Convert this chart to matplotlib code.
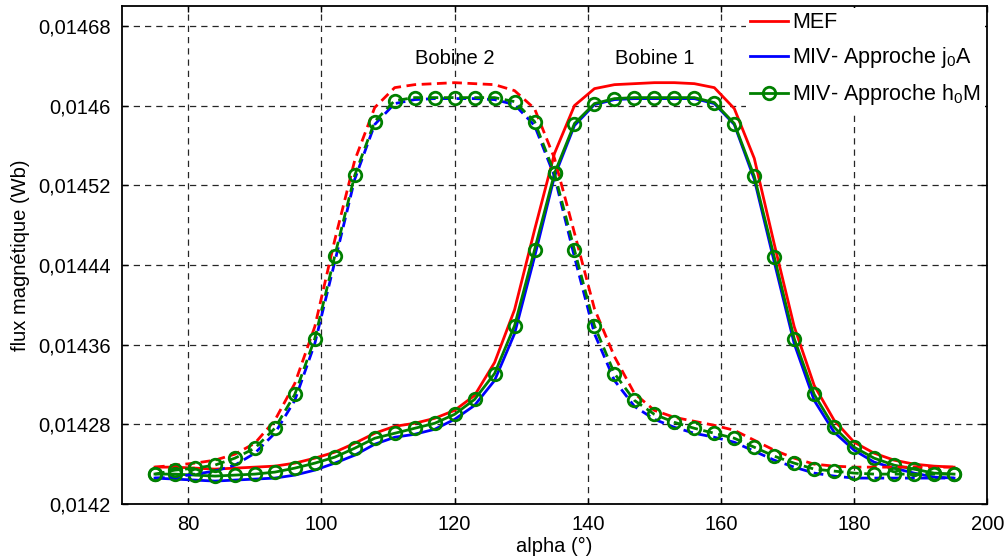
import matplotlib
matplotlib.use("Agg")
import matplotlib.pyplot as plt
from matplotlib.ticker import FixedLocator

plt.rcParams['font.family'] = ['Liberation Sans', 'DejaVu Sans']
plt.rcParams['mathtext.fontset'] = 'custom'
plt.rcParams['mathtext.rm'] = 'Liberation Sans'
plt.rcParams['mathtext.it'] = 'Liberation Sans'
plt.rcParams['font.size'] = 14

# angle (deg), 75..195 every 3 deg
alpha = [75, 78, 81, 84, 87, 90, 93, 96, 99, 102, 105, 108, 111, 114, 117,
         120, 123, 126, 129, 132, 135, 138, 141, 144, 147, 150, 153, 156, 159,
         162, 165, 168, 171, 174, 177, 180, 183, 186, 189, 192, 195]

# bobine 1 (solid)
mef_b1 = [0.014237, 0.014237, 0.014236, 0.014235, 0.014236, 0.014237, 0.014238,
          0.014241, 0.014246, 0.014252, 0.014261, 0.014271, 0.014278, 0.014281,
          0.014286, 0.014294, 0.014309, 0.014342, 0.014395, 0.014475, 0.014552,
          0.014600, 0.014617, 0.014621, 0.014622, 0.014623, 0.014623, 0.014622,
          0.014618, 0.014597, 0.014547, 0.014461, 0.014378, 0.014319, 0.014284,
          0.014262, 0.014251, 0.014244, 0.014240, 0.014238, 0.014237]
j0a_b1 = [0.014226, 0.014225, 0.014224, 0.014223, 0.014224, 0.014225, 0.014226,
          0.014229, 0.014234, 0.014241, 0.014249, 0.014260, 0.014267, 0.014270,
          0.014275, 0.014285, 0.014299, 0.014324, 0.014371, 0.014448, 0.014529,
          0.014580, 0.014601, 0.014606, 0.014607, 0.014607, 0.014607, 0.014607,
          0.014602, 0.014581, 0.014526, 0.014443, 0.014361, 0.014304, 0.014272,
          0.014254, 0.014242, 0.014236, 0.014231, 0.014227, 0.014226]
h0m_b1 = [0.014230, 0.014230, 0.014229, 0.014228, 0.014229, 0.014230, 0.014232,
          0.014236, 0.014241, 0.014247, 0.014256, 0.014266, 0.014271, 0.014276,
          0.014281, 0.014290, 0.014305, 0.014331, 0.014379, 0.014455, 0.014532,
          0.014582, 0.014602, 0.014607, 0.014608, 0.014608, 0.014608, 0.014608,
          0.014603, 0.014582, 0.014529, 0.014448, 0.014366, 0.014310, 0.014277,
          0.014257, 0.014246, 0.014239, 0.014235, 0.014231, 0.014230]

# bobine 2 (dashed)
mef_b2 = [0.014237, 0.014239, 0.014241, 0.014244, 0.014250, 0.014261, 0.014284,
          0.014321, 0.014378, 0.014465, 0.014545, 0.014598, 0.014618, 0.014621,
          0.014622, 0.014623, 0.014622, 0.014621, 0.014615, 0.014597, 0.014547,
          0.014472, 0.014396, 0.014348, 0.014311, 0.014294, 0.014287, 0.014283,
          0.014279, 0.014274, 0.014264, 0.014254, 0.014246, 0.014240, 0.014238,
          0.014237, 0.014237, 0.014237, 0.014237, 0.014237, 0.014237]
j0a_b2 = [0.014226, 0.014227, 0.014230, 0.014233, 0.014239, 0.014251, 0.014271,
          0.014304, 0.014361, 0.014443, 0.014526, 0.014581, 0.014602, 0.014606,
          0.014607, 0.014607, 0.014607, 0.014606, 0.014601, 0.014580, 0.014529,
          0.014448, 0.014371, 0.014324, 0.014298, 0.014285, 0.014277, 0.014271,
          0.014267, 0.014262, 0.014253, 0.014244, 0.014237, 0.014231, 0.014228,
          0.014226, 0.014226, 0.014226, 0.014226, 0.014226, 0.014226]
h0m_b2 = [0.014230, 0.014234, 0.014236, 0.014239, 0.014246, 0.014256, 0.014276,
          0.014310, 0.014366, 0.014449, 0.014530, 0.014584, 0.014605, 0.014608,
          0.014608, 0.014608, 0.014608, 0.014608, 0.014604, 0.014584, 0.014532,
          0.014455, 0.014379, 0.014331, 0.014304, 0.014290, 0.014282, 0.014276,
          0.014271, 0.014266, 0.014257, 0.014248, 0.014241, 0.014235, 0.014233,
          0.014231, 0.014230, 0.014230, 0.014230, 0.014230, 0.014230]

xticks = [80, 100, 120, 140, 160, 180, 200]
yticks = [0.0142, 0.01428, 0.01436, 0.01444, 0.01452, 0.0146, 0.01468]
ytick_labels = ['0,0142', '0,01428', '0,01436', '0,01444', '0,01452', '0,0146', '0,01468']

RED = '#ff0000'
BLUE = '#0000ff'
GREEN = '#008000'

fig = plt.figure(figsize=(10.08, 5.58), dpi=100)
ax = fig.add_axes([0.1207, 0.0968, 0.8588, 0.8925])

lw = 2.0
mk = dict(marker='o', markersize=9, markerfacecolor='none',
          markeredgecolor=GREEN, markeredgewidth=2.0)

ax.plot(alpha, mef_b1, color=RED, lw=lw, label='MEF')
ax.plot(alpha, j0a_b1, color=BLUE, lw=lw, label=r'MIV- Approche j$_0$A')
ax.plot(alpha, h0m_b1, color=GREEN, lw=lw, label=r'MIV- Approche h$_0$M', **mk)

ax.plot(alpha, mef_b2, color=RED, lw=lw, ls=(0, (3.5, 2)))
ax.plot(alpha, j0a_b2, color=BLUE, lw=lw, ls=(0, (3.5, 2)))
ax.plot(alpha, h0m_b2, color=GREEN, lw=lw, ls=(0, (3.5, 2)), **mk)

ax.text(120, 0.014647, 'Bobine 2', ha='center', va='center', fontsize=14.5)
ax.text(150, 0.014647, 'Bobine 1', ha='center', va='center', fontsize=14.5)

ax.set_xlim(70, 200)
ax.set_ylim(0.0142, 0.0147)
ax.xaxis.set_major_locator(FixedLocator(xticks))
ax.set_yticks(yticks)
ax.set_yticklabels(ytick_labels)
ax.tick_params(direction='in', length=4, width=1, top=True, right=True,
               labelsize=14.5, pad=8)
ax.grid(True, color='0.15', ls=(0, (5, 4)), lw=0.9)
for s in ax.spines.values():
    s.set_linewidth(1.3)

ax.set_xlabel('alpha (°)', fontsize=14.5, labelpad=2)
ax.set_ylabel('flux magnétique (Wb)', fontsize=14.5, labelpad=6)

leg = ax.legend(loc='upper right', borderaxespad=0.1, frameon=True,
                fancybox=False, edgecolor='none', facecolor='white',
                framealpha=1, handlelength=1.75, handletextpad=0.2,
                labelspacing=0.55, numpoints=1, borderpad=0.2, fontsize=15.5)

fig.savefig('out.png', dpi=100)
